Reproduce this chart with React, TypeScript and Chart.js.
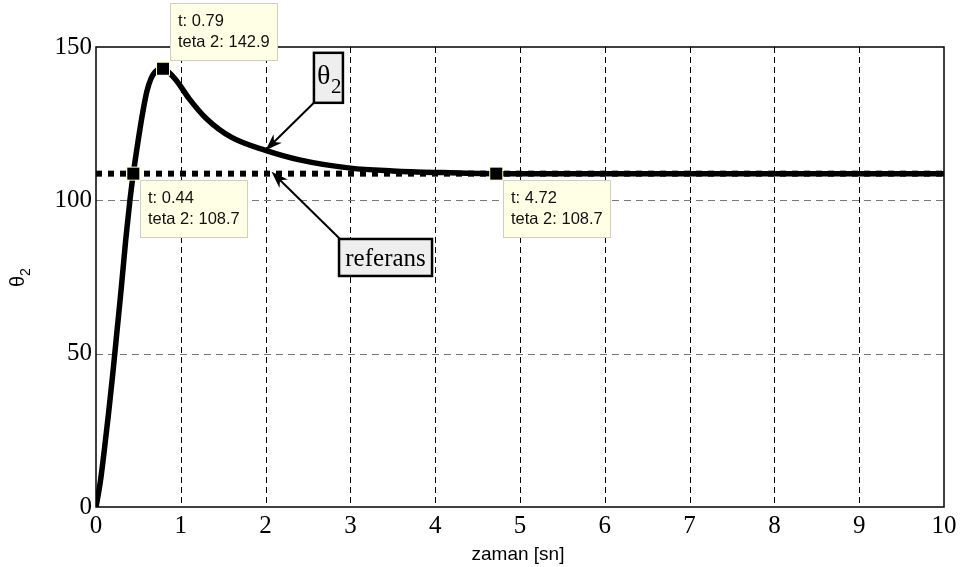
import { useEffect, useRef } from 'react';
import { Chart, registerables } from 'chart.js';

Chart.register(...registerables);

// Step response of theta 2 (degrees) against time (s)
const timeSec = [0, 0.05, 0.1, 0.15, 0.2, 0.25, 0.3, 0.35, 0.4, 0.44, 0.5, 0.55, 0.6, 0.65, 0.7, 0.75, 0.79, 0.85, 0.95, 1.1, 1.3, 1.6, 2.0, 2.4, 3.0, 3.5, 4.0, 4.72, 6, 8, 10];
const theta2 = [0, 8, 19, 31, 44, 58, 72, 87, 100, 108.7, 120, 128.5, 135.5, 139.8, 142.0, 142.8, 142.9, 142.0, 139.0, 133.1, 126.7, 120.5, 116.3, 113.2, 110.5, 109.6, 109.1, 108.7, 108.7, 108.7, 108.7];

// Reference (set point) level
const refTime = [0, 10];
const refTheta = [108.7, 108.7];

// Data tips
const tipTime = [0.79, 0.44, 4.72];
const tipTheta = [142.9, 108.7, 108.7];
const tipAbove = [true, false, false];

const xTicks = [0, 1, 2, 3, 4, 5, 6, 7, 8, 9, 10];
const yTicks = [0, 50, 100, 150];

const SERIF = '"Liberation Serif", "Times New Roman", serif';
const SANS = '"Liberation Sans", Arial, sans-serif';

function drawArrow(ctx: CanvasRenderingContext2D, x0: number, y0: number, x1: number, y1: number) {
  const ang = Math.atan2(y1 - y0, x1 - x0);
  const len = 17;
  const half = 6;
  const bx = x1 - len * Math.cos(ang);
  const by = y1 - len * Math.sin(ang);
  ctx.save();
  ctx.strokeStyle = '#000';
  ctx.lineWidth = 2;
  ctx.beginPath();
  ctx.moveTo(x0, y0);
  ctx.lineTo(x1 - 10 * Math.cos(ang), y1 - 10 * Math.sin(ang));
  ctx.stroke();
  ctx.fillStyle = '#000';
  ctx.beginPath();
  ctx.moveTo(x1, y1);
  ctx.lineTo(bx - half * Math.sin(ang), by + half * Math.cos(ang));
  ctx.lineTo(x1 - 0.7 * len * Math.cos(ang), y1 - 0.7 * len * Math.sin(ang));
  ctx.lineTo(bx + half * Math.sin(ang), by - half * Math.cos(ang));
  ctx.closePath();
  ctx.fill();
  ctx.restore();
}

const gridPlugin = {
  id: 'dashedGrid',
  beforeDatasetsDraw(chart: any) {
    const { ctx, chartArea: a, scales } = chart;
    const x = scales.x;
    const y = scales.y;
    ctx.save();
    ctx.lineWidth = 1;
    ctx.strokeStyle = '#000';
    ctx.setLineDash([6, 4]);
    xTicks.slice(1, -1).forEach((v) => {
      const px = Math.round(x.getPixelForValue(v)) + 0.5;
      ctx.beginPath();
      ctx.moveTo(px, a.top);
      ctx.lineTo(px, a.bottom);
      ctx.stroke();
    });
    ctx.strokeStyle = '#777';
    ctx.setLineDash([7, 5]);
    yTicks.slice(1, -1).forEach((v) => {
      const py = Math.round(y.getPixelForValue(v)) + 0.5;
      ctx.beginPath();
      ctx.moveTo(a.left, py);
      ctx.lineTo(a.right, py);
      ctx.stroke();
    });
    ctx.restore();
  },
};

const overlayPlugin = {
  id: 'overlay',
  afterDatasetsDraw(chart: any) {
    const { ctx, chartArea: a, scales } = chart;
    const x = scales.x;
    const y = scales.y;

    // axes box
    ctx.save();
    ctx.strokeStyle = '#000';
    ctx.lineWidth = 1.5;
    ctx.strokeRect(a.left, a.top, a.right - a.left, a.bottom - a.top);
    ctx.restore();

    // theta_2 label with arrow to the response curve
    {
      const tx = x.getPixelForValue(2.0);
      const ty = y.getPixelForValue(116.3);
      const bl = x.getPixelForValue(2.57);
      const bt = y.getPixelForValue(148.1);
      const bw = 29;
      const bh = 50;
      drawArrow(ctx, bl + 1, bt + bh - 1, tx, ty);
      ctx.save();
      ctx.fillStyle = '#eeeeee';
      ctx.fillRect(bl, bt, bw, bh);
      ctx.strokeStyle = '#000';
      ctx.lineWidth = 2.5;
      ctx.strokeRect(bl, bt, bw, bh);
      ctx.fillStyle = '#000';
      ctx.font = `28px ${SERIF}`;
      ctx.textBaseline = 'alphabetic';
      ctx.textAlign = 'left';
      ctx.fillText('θ', bl + 3, bt + 31);
      ctx.font = `21px ${SERIF}`;
      ctx.fillText('2', bl + 17, bt + 40);
      ctx.restore();
    }

    // "referans" label with arrow to the reference line
    {
      const tx = x.getPixelForValue(2.07);
      const ty = y.getPixelForValue(109.3);
      const bl = x.getPixelForValue(2.866);
      const bt = y.getPixelForValue(87.4);
      const bw = 93;
      const bh = 37;
      drawArrow(ctx, bl + 1, bt, tx, ty);
      ctx.save();
      ctx.fillStyle = '#eeeeee';
      ctx.fillRect(bl, bt, bw, bh);
      ctx.strokeStyle = '#000';
      ctx.lineWidth = 2.5;
      ctx.strokeRect(bl, bt, bw, bh);
      ctx.fillStyle = '#000';
      ctx.font = `25px ${SERIF}`;
      ctx.textAlign = 'center';
      ctx.textBaseline = 'alphabetic';
      ctx.fillText('referans', bl + bw / 2, bt + 27);
      ctx.restore();
    }

    // data tips
    tipTime.forEach((t, i) => {
      const px = x.getPixelForValue(t);
      const py = y.getPixelForValue(tipTheta[i]);
      const bw = 107;
      const bh = 57;
      const bl = Math.round(px + 7);
      const bt = Math.round(tipAbove[i] ? py - 9 - bh : py + 6);
      ctx.save();
      ctx.fillStyle = '#ffffe6';
      ctx.fillRect(bl, bt, bw, bh);
      ctx.strokeStyle = '#cfcfc4';
      ctx.lineWidth = 1;
      ctx.strokeRect(bl + 0.5, bt + 0.5, bw, bh);
      ctx.fillStyle = '#111';
      ctx.font = `16.5px ${SANS}`;
      ctx.textAlign = 'left';
      ctx.textBaseline = 'alphabetic';
      ctx.fillText(`t: ${t}`, bl + 8, bt + 23);
      ctx.fillText(`teta 2: ${tipTheta[i].toFixed(1)}`, bl + 8, bt + 44);
      ctx.restore();
    });

    // tip markers
    tipTime.forEach((t, i) => {
      const px = x.getPixelForValue(t);
      const py = y.getPixelForValue(tipTheta[i]);
      ctx.save();
      ctx.fillStyle = '#ffffd0';
      ctx.fillRect(px - 7, py - 7, 14, 14);
      ctx.fillStyle = '#000';
      ctx.fillRect(px - 6, py - 6, 12, 12);
      ctx.restore();
    });

    // axis titles
    ctx.save();
    ctx.fillStyle = '#000';
    ctx.font = `19px ${SANS}`;
    ctx.textAlign = 'center';
    ctx.textBaseline = 'alphabetic';
    ctx.fillText('zaman [sn]', (a.left + a.right) / 2 - 2, 560);
    ctx.translate(24, (a.top + a.bottom) / 2 + 4);
    ctx.rotate(-Math.PI / 2);
    ctx.textAlign = 'left';
    ctx.font = `20px ${SANS}`;
    ctx.fillText('θ', -6, 0);
    ctx.font = `14px ${SANS}`;
    ctx.fillText('2', 5, 6);
    ctx.restore();
  },
};

export default function App() {
  const canvasRef = useRef<HTMLCanvasElement | null>(null);

  useEffect(() => {
    const canvas = canvasRef.current;
    if (!canvas) return;
    const chart = new Chart(canvas, {
      type: 'line',
      data: {
        datasets: [
          {
            label: 'theta 2',
            data: timeSec.map((t, i) => ({ x: t, y: theta2[i] })),
            borderColor: '#000',
            borderWidth: 5.5,
            pointRadius: 0,
            cubicInterpolationMode: 'monotone',
            order: 1,
          },
          {
            label: 'referans',
            data: refTime.map((t, i) => ({ x: t, y: refTheta[i] })),
            borderColor: '#000',
            borderWidth: 6,
            borderDash: [6, 6],
            pointRadius: 0,
            order: 2,
          },
        ],
      },
      options: {
        animation: false,
        responsive: false,
        maintainAspectRatio: false,
        layout: { padding: { top: 47, right: 19, left: 0, bottom: 0 } },
        plugins: {
          legend: { display: false },
          tooltip: { enabled: false },
        },
        scales: {
          x: {
            type: 'linear',
            min: 0,
            max: 10,
            grid: { display: false, drawTicks: false },
            border: { display: false },
            afterBuildTicks: (s: any) => {
              s.ticks = xTicks.map((v) => ({ value: v }));
            },
            afterFit: (s: any) => {
              s.height = 60;
            },
            ticks: {
              color: '#000',
              padding: 4,
              maxRotation: 0,
              autoSkip: false,
              font: { family: SERIF, size: 25 },
            },
          },
          y: {
            type: 'linear',
            min: 0,
            max: 150,
            grid: { display: false, drawTicks: false },
            border: { display: false },
            afterBuildTicks: (s: any) => {
              s.ticks = yTicks.map((v) => ({ value: v }));
            },
            afterFit: (s: any) => {
              s.width = 96;
            },
            ticks: {
              color: '#000',
              padding: 4,
              font: { family: SERIF, size: 25 },
            },
          },
        },
      },
      plugins: [gridPlugin, overlayPlugin],
    });
    return () => chart.destroy();
  }, []);

  return (
    <div style={{ position: 'absolute', left: 0, top: 0, width: 963, height: 567, background: '#fff' }}>
      <canvas ref={canvasRef} width={963} height={567} />
    </div>
  );
}
